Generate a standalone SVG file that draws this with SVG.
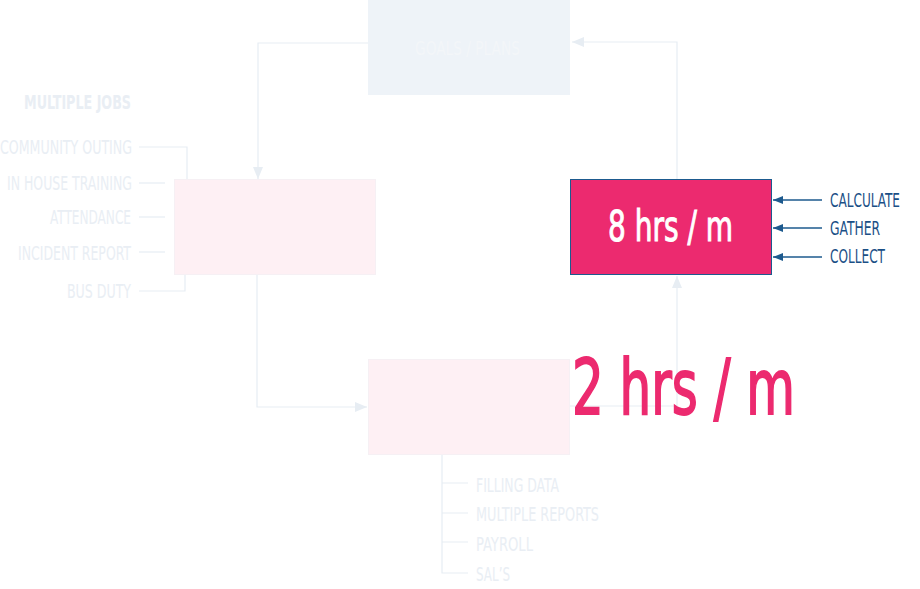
<svg xmlns="http://www.w3.org/2000/svg" width="920" height="589" viewBox="0 0 920 589">
<defs>
<style>
.t{font-family:"Liberation Sans Narrow","DejaVu Sans Condensed","Liberation Sans",sans-serif;}
.faint{fill:#e9eef4;font-size:19px;}
.blue{fill:#1b4f86;font-size:20px;}
.fl{stroke:#e7edf3;stroke-width:1.2;fill:none;}
.bl{stroke:#1d5a8e;stroke-width:1.5;fill:none;}
</style>
<marker id="fa" viewBox="0 0 12 10" refX="12" refY="5" markerWidth="12" markerHeight="10" markerUnits="userSpaceOnUse" orient="auto">
<path d="M0,0 L12,5 L0,10 Z" fill="#e7edf3"/>
</marker>
<marker id="ba" viewBox="0 0 10 8" refX="10" refY="4" markerWidth="10" markerHeight="8" markerUnits="userSpaceOnUse" orient="auto">
<path d="M0,0 L10,4 L0,8 Z" fill="#1d5a8e"/>
</marker>
</defs>
<rect width="920" height="589" fill="#ffffff"/>
<g id="connectors">
<path class="fl" d="M368,43 H258 V179" marker-end="url(#fa)"/>
<path class="fl" d="M677,180 V42 H572" marker-end="url(#fa)"/>
<path class="fl" d="M257,274 V407 H367" marker-end="url(#fa)"/>
<path class="fl" d="M570,406 H677 V276" marker-end="url(#fa)"/>
<path class="fl" d="M139,147 H187 V179"/>
<path class="fl" d="M139,183 H165"/>
<path class="fl" d="M139,217 H165"/>
<path class="fl" d="M139,252 H165"/>
<path class="fl" d="M139,291 H185 V275"/>
<path class="fl" d="M442,454 V573 H468 M442,483 H468 M442,513 H468 M442,542 H468"/>
<path class="bl" d="M822,200 H773" marker-end="url(#ba)"/>
<path class="bl" d="M822,228 H773" marker-end="url(#ba)"/>
<path class="bl" d="M822,257 H773" marker-end="url(#ba)"/>
</g>
<g id="goals">
<rect x="368" y="0" width="202" height="95" fill="#eef3f8"/>
<text class="t" x="415" y="55" font-size="20" fill="#f3f6f9" textLength="105" lengthAdjust="spacingAndGlyphs">GOALS / PLANS</text>
</g>
<g id="jobs">
<rect x="174.5" y="179.5" width="201" height="95" fill="#fef0f4" stroke="#f6f0f4" stroke-width="1"/>
</g>
<g id="reports">
<rect x="368.5" y="359.5" width="201" height="95" fill="#fef0f4" stroke="#f6f0f4" stroke-width="1"/>
</g>
<g id="eight">
<rect x="570.5" y="179.5" width="201" height="95" fill="#ec2a6f" stroke="#1d5a8e" stroke-width="1"/>
<text class="t" x="608" y="241" font-size="43" fill="#ffffff" stroke="#ffffff" stroke-width="1" textLength="125" lengthAdjust="spacingAndGlyphs">8 hrs / m</text>
</g>
<g id="two">
<text class="t" x="572" y="414" font-size="76" fill="#ec2a6f" stroke="#ec2a6f" stroke-width="1.8" textLength="223" lengthAdjust="spacingAndGlyphs">2 hrs / m</text>
</g>
<g id="left-list">
<text class="t faint" x="24" y="109" font-weight="bold" font-size="18" textLength="107" lengthAdjust="spacingAndGlyphs">MULTIPLE JOBS</text>
<text class="t faint" x="0" y="154" textLength="132" lengthAdjust="spacingAndGlyphs">COMMUNITY OUTING</text>
<text class="t faint" x="7" y="190" textLength="125" lengthAdjust="spacingAndGlyphs">IN HOUSE TRAINING</text>
<text class="t faint" x="50" y="224" textLength="81" lengthAdjust="spacingAndGlyphs">ATTENDANCE</text>
<text class="t faint" x="18" y="260" textLength="113" lengthAdjust="spacingAndGlyphs">INCIDENT REPORT</text>
<text class="t faint" x="67" y="298" textLength="64" lengthAdjust="spacingAndGlyphs">BUS DUTY</text>
</g>
<g id="bottom-list">
<text class="t faint" x="476" y="492" font-size="21" textLength="83" lengthAdjust="spacingAndGlyphs">FILLING DATA</text>
<text class="t faint" x="476" y="521" font-size="21" textLength="123" lengthAdjust="spacingAndGlyphs">MULTIPLE REPORTS</text>
<text class="t faint" x="476" y="551" font-size="21" textLength="57" lengthAdjust="spacingAndGlyphs">PAYROLL</text>
<text class="t faint" x="476" y="581" font-size="21" textLength="34" lengthAdjust="spacingAndGlyphs">SAL’S</text>
</g>
<g id="right-list">
<text class="t blue" x="830" y="207" textLength="70" lengthAdjust="spacingAndGlyphs">CALCULATE</text>
<text class="t blue" x="830" y="235" textLength="50" lengthAdjust="spacingAndGlyphs">GATHER</text>
<text class="t blue" x="830" y="263" textLength="55" lengthAdjust="spacingAndGlyphs">COLLECT</text>
</g>
</svg>
